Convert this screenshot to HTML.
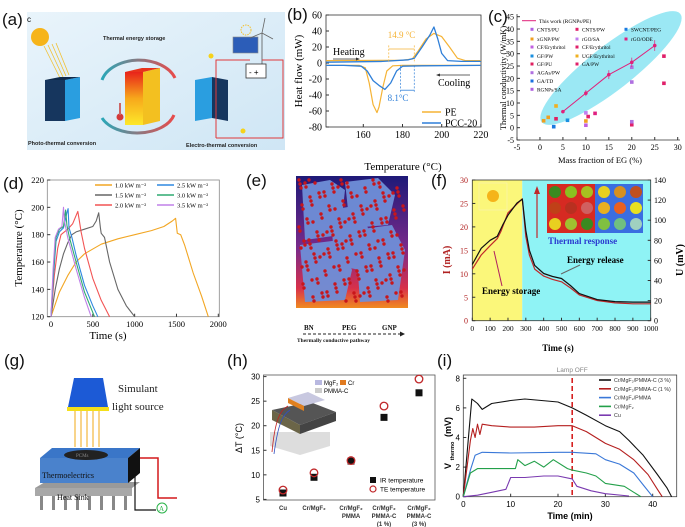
<!DOCTYPE html>
<html><head><meta charset="utf-8"><style>
html,body{margin:0;padding:0;background:#fff;}
svg{display:block;font-family:"Liberation Serif",serif;}
.sans{font-family:"Liberation Sans",sans-serif;}
</style></head><body>
<svg id="fig" width="685" height="527" viewBox="0 0 685 527" xmlns="http://www.w3.org/2000/svg">
<defs>
<linearGradient id="abg" x1="0" y1="0" x2="1" y2="1"><stop offset="0" stop-color="#e9f4fb"/><stop offset="1" stop-color="#cfe6f5"/></linearGradient>
<linearGradient id="hot" x1="0" y1="0" x2="0" y2="1"><stop offset="0" stop-color="#e8231a"/><stop offset="0.5" stop-color="#f7a81b"/><stop offset="1" stop-color="#fde82a"/></linearGradient>
<linearGradient id="ebg" x1="0" y1="0" x2="0" y2="1"><stop offset="0" stop-color="#1e1a78"/><stop offset="0.55" stop-color="#7a2a8a"/><stop offset="0.85" stop-color="#d8304a"/><stop offset="1" stop-color="#f08a20"/></linearGradient>
<linearGradient id="tl" x1="0" y1="0" x2="1" y2="0"><stop offset="0" stop-color="#2aa7b8"/><stop offset="1" stop-color="#e84b4b"/></linearGradient>
</defs>

<g class="sans" font-size="17" fill="#111">
<text x="2" y="25">(a)</text>
<text x="287" y="20">(b)</text>
<text x="488" y="22">(c)</text>
<text x="3" y="189">(d)</text>
<text x="246" y="186">(e)</text>
<text x="431" y="186">(f)</text>
<text x="4" y="366">(g)</text>
<text x="227" y="366">(h)</text>
<text x="437" y="366">(i)</text>
</g>

<g>
<rect x="27" y="12" width="258" height="138" fill="url(#abg)"/>
<text x="27" y="22" font-size="8" class="sans">c</text>
<circle cx="40" cy="37" r="9" fill="#f6b41a"/>
<g stroke="#f2c030" stroke-width="0.8"><line x1="44" y1="46" x2="60" y2="78"/><line x1="48" y1="45" x2="63" y2="77"/><line x1="52" y1="44" x2="66" y2="76"/><line x1="56" y1="43" x2="69" y2="75"/></g>
<polygon points="45,80 65,80 65,121 45,121" fill="#16365e"/>
<polygon points="65,80 80,77 80,118 65,121" fill="#2a9ee0"/>
<polygon points="45,80 60,77 80,77 65,80" fill="#0f2a4a"/>
<polygon points="125,72 143,72 143,125 125,125" fill="url(#hot)"/>
<polygon points="143,72 160,68 160,121 143,125" fill="#f3c020"/>
<polygon points="125,72 142,68 160,68 143,72" fill="#e8331c"/>
<path d="M102,80 A38,26 0 0 1 175,78" fill="none" stroke="url(#tl)" stroke-width="3"/>
<path d="M174,115 A38,24 0 0 1 102,118" fill="none" stroke="url(#tl)" stroke-width="3"/>
<circle cx="120" cy="117" r="3.5" fill="#d43a3a"/><rect x="119" y="103" width="2" height="12" fill="#c66"/>
<polygon points="195,80 212,77 212,118 195,121" fill="#2a9ee0"/>
<polygon points="212,77 228,80 228,121 212,118" fill="#16365e"/>
<text x="103" y="40" font-size="5.5" font-weight="bold" class="sans" fill="#222">Thermal energy storage</text>
<text x="28" y="145" font-size="5.5" font-weight="bold" class="sans" fill="#222">Photo-thermal conversion</text>
<text x="186" y="147" font-size="5.5" font-weight="bold" class="sans" fill="#222">Electro-thermal conversion</text>
<rect x="233" y="37" width="25" height="16" fill="#2c5db8" stroke="#888" stroke-width="0.6"/>
<line x1="262" y1="33" x2="262" y2="68" stroke="#555" stroke-width="0.8"/>
<path d="M262,33 L265,18 M262,33 L250,38 M262,33 L273,39" stroke="#666" stroke-width="0.8"/>
<circle cx="246" cy="30" r="5" fill="none" stroke="#f2c030" stroke-dasharray="1.5 1"/>
<rect x="246" y="64" width="20" height="14" fill="#fff" stroke="#333" stroke-width="0.8"/>
<text x="249" y="75" font-size="8" class="sans">- +</text>
<path d="M216,138 L216,60 L250,60 M262,60 L283,60 L283,138 L216,138" fill="none" stroke="#e0393b" stroke-width="1"/>
<circle cx="211" cy="56" r="2.5" fill="#f6d21a"/><circle cx="243" cy="131" r="2.5" fill="#f6d21a"/>
</g>

<g>
<rect x="296" y="176" width="112" height="132" fill="url(#ebg)"/>
<g id="eshapes" fill="#6f8fd8" opacity="0.95">
<polygon points="302,185 330,180 345,190 340,235 305,240"/>
<polygon points="345,182 378,178 395,195 388,225 350,228"/>
<polygon points="300,245 340,240 352,270 345,300 305,302"/>
<polygon points="355,230 392,225 405,250 398,300 360,302"/>
<polygon points="330,210 360,205 372,240 360,270 335,265"/>
</g>
<g id="edots" fill="#c8161b"></g>
<g font-size="7" font-weight="bold" fill="#111">
<text x="304" y="330">BN</text><text x="342" y="330">PEG</text><text x="382" y="330">GNP</text>
<text x="297" y="342" font-size="5.5">Thermally conductive pathway</text></g>
<line x1="303" y1="334" x2="400" y2="334" stroke="#222" stroke-dasharray="3 2"/>
<polygon points="400,331.5 405,334 400,336.5" fill="#222"/>
</g>

<g>
<polygon points="74,378 103,378 108,407 68,407" fill="#1c5ad6"/>
<rect x="67" y="407" width="42" height="4" fill="#f4df1a"/>
<text x="118" y="392" font-size="11" fill="#222">Simulant</text>
<text x="112" y="410" font-size="11" fill="#222">light source</text>
<g stroke="#f2a916" stroke-width="1"><line x1="75" y1="411" x2="75" y2="447"/><line x1="81" y1="411" x2="81" y2="447"/><line x1="87" y1="411" x2="87" y2="447"/><line x1="93" y1="411" x2="93" y2="447"/><line x1="99" y1="411" x2="99" y2="447"/></g>
<polygon points="35,488 132,488 140,482 45,482" fill="#9a9a9a"/>
<rect x="35" y="488" width="97" height="8" fill="#a8a8a8"/>
<g fill="#888"><rect x="40" y="496" width="3" height="14"/><rect x="52" y="496" width="3" height="14"/><rect x="64" y="496" width="3" height="14"/><rect x="76" y="496" width="3" height="14"/><rect x="88" y="496" width="3" height="14"/><rect x="100" y="496" width="3" height="14"/><rect x="112" y="496" width="3" height="14"/><rect x="124" y="496" width="3" height="14"/></g>
<text x="57" y="500" font-size="8" fill="#111">Heat Sink</text>
<polygon points="40,458 128,458 140,448 52,448" fill="#3a76c8"/>
<rect x="40" y="458" width="88" height="25" fill="#4a82cc"/>
<polygon points="128,458 140,448 140,473 128,483" fill="#111"/>
<ellipse cx="86" cy="455" rx="22" ry="5" fill="#222"/>
<text x="76" y="457" font-size="5" fill="#888">PCMs</text>
<text x="42" y="478" font-size="8" fill="#111">Thermoelectrics</text>
<path d="M140,458 L158,458 L158,498 L177,498" fill="none" stroke="#d4191c" stroke-width="1.5"/>
<path d="M132,475 L135,475 L135,510 L156,510" fill="none" stroke="#111" stroke-width="1.2"/>
<circle cx="162" cy="508" r="5" fill="#fff" stroke="#2bb34a"/><text x="159" y="511" font-size="7" fill="#2bb34a">A</text>
</g>

<g id="plots"></g>
</svg>
<script>
const bPEheat=[[141,3],[180,3.5],[185,5],[188,15],[192,30],[196,37],[200,33],[204,20],[208,6],[212,3],[220,3]];
const bPEcool=[[220,-3],[180,-3],[175,-3.5],[172,-10],[170,-30],[168,-55],[167,-62],[165,-52],[163,-25],[161,-6],[158,-3],[141,-3]];
const bPCCheat=[[141,1],[170,2],[183,4],[186,6],[190,20],[194,35],[196,45],[198,30],[200,12],[203,3],[210,2],[220,2]];
const bPCCcool=[[220,-3],[190,-3.5],[180,-4],[177,-10],[174,-25],[171,-33],[168,-28],[165,-22],[162,-10],[159,-4],[150,-3],[141,-3]];
const bXTicks=[160,180,200,220];
const bYTicks=[60,40,20,0,-20,-40,-60,-80];
const cWorkX=[5,10,15,20,25];
const cWorkY=[6.5,14,21.5,26.5,33.3];
const cWorkErr=[0.6,1.2,1.8,1.9,2.2];
const cPtsX=[0.8,1.8,3,3.5,3.5,6,10,10,10,10.5,12,20,20,20,20,27,27];
const cPtsY=[2.8,4.2,0.4,3.6,8.8,3,1,2.7,6,4.5,5.8,1.2,2.4,18.5,24.5,29,18];
const cPtsSeries=[3,3,2,10,9,8,6,3,4,1,5,7,12,12,12,7,1];
const cLegend=["CNTS/PU","CNTS/PW","SWCNT/PEG","xGNP/PW","rGO/SA","rGO/ODE","CF/Erythritol","CF/Erythritol","GF/PW","UGF/Erythritol","GF/PU","GA/PW","AGAs/PW","GA/TD","RGNPs/SA"];
const cLegendColor=["#b060e0","#e0206a","#1a7ae0","#f0a020","#c080f0","#e02080","#c060e0","#e0206a","#1a90e0","#f0b020","#e02060","#e0206a","#b070e0","#1a70e0","#b060e0"];
const cXTicks=[-5,0,5,10,15,20,25,30];
const cYTicks=[-5,0,5,10,15,20,25,30,35,40,45];
const dSeries=["1.0 kW m\u207B\u00B2","1.5 kW m\u207B\u00B2","2.0 kW m\u207B\u00B2","2.5 kW m\u207B\u00B2","3.0 kW m\u207B\u00B2","3.5 kW m\u207B\u00B2"];
const d10=[[0,120],[100,138],[200,150],[300,160],[400,166],[600,173],[800,177],[1000,180],[1200,183],[1350,186],[1450,190],[1490,192],[1510,181],[1550,180],[1600,172],[1700,152],[1800,135],[1880,120]];
const d15=[[0,120],[50,140],[100,155],[150,166],[200,174],[250,180],[300,182],[400,184],[500,186],[540,190],[570,196],[590,185],[600,181],[640,178],[700,160],[800,140],[900,128],[1000,120]];
const d20=[[0,120],[40,150],[80,170],[120,180],[200,184],[260,188],[320,197],[340,190],[360,182],[400,170],[500,148],[600,132],[700,120]];
const d25=[[0,120],[30,150],[60,175],[100,182],[150,185],[190,196],[205,199],[215,185],[250,178],[300,165],[400,143],[500,128],[560,120]];
const d30=[[0,120],[30,155],[60,178],[100,184],[150,186],[175,198],[190,187],[220,178],[300,160],[400,138],[520,120]];
const d35=[[0,120],[25,155],[50,178],[90,184],[130,186],[150,200],[160,190],[200,178],[300,155],[400,134],[480,120]];
const dXTicks=[0,500,1000,1500,2000];
const dYTicks=[120,140,160,180,200,220];
const fI=[[0,11],[50,14],[100,16],[140,17.5],[160,19],[200,23],[240,24.5],[280,26],[300,18],[320,14],[350,11],[400,9.5],[450,8.8],[500,8.3],[550,7],[600,5.5],[700,4.3],[800,3.8],[900,3.6],[1000,3.6]];
const fU=[[0,56],[50,72],[100,80],[140,84],[170,95],[200,105],[250,117],[280,121],[300,90],[320,70],[350,55],[400,47],[450,44],[500,42],[550,35],[600,27],[700,21],[800,19],[900,18.5],[1000,18.5]];
const fXTicks=[0,100,200,300,400,500,600,700,800,900,1000];
const fYTicks=[0,5,10,15,20,25,30];
const fY2Ticks=[0,20,40,60,80,100,120,140];
const hCats=["Cu","Cr/MgF\u2082","Cr/MgF\u2082|PMMA","Cr/MgF\u2082|PMMA-C|(1 %)","Cr/MgF\u2082|PMMA-C|(3 %)"];
const hIR=[6.3,9.5,12.8,21.7,26.7];
const hTE=[6.9,10.4,12.9,24,29.5];
const hYTicks=[5,10,15,20,25,30];
const iNames=["Cr/MgF\u2082/PMMA-C (3 %)","Cr/MgF\u2082/PMMA-C (1 %)","Cr/MgF\u2082/PMMA","Cr/MgF\u2082","Cu"];
const i3=[[0,0],[1.8,6.6],[3,6.3],[4,5.9],[6,6.3],[10,6.5],[13,6.6],[20,6.4],[23,6.0],[26,5.5],[30,4.8],[33,4.4],[35,3.8],[38,2.8],[41,1.5],[43,0.6],[44,0]];
const i1=[[0,0],[1.5,3.8],[2,4.6],[2.5,4.0],[3,4.9],[3.5,4.2],[4,4.9],[6,4.8],[10,4.7],[15,4.7],[20,4.8],[23,4.8],[26,4.4],[30,3.6],[33,3.2],[36,2.5],[39,1.5],[41,0.5],[42,0]];
const iP=[[0,0],[1.5,1.8],[2.5,2.8],[4,3.0],[10,2.95],[20,3.0],[23,3.0],[28,2.9],[30,2.5],[33,2.2],[36,1.6],[38,0.8],[40,0]];
const iM=[[0,0],[1.5,1.6],[3,1.9],[11,1.9],[11.5,2.5],[13,2.1],[15,2.4],[17,2.0],[19,2.5],[22,1.9],[23,1.8],[26,1.6],[28,1.4],[30,0.9],[34,0.7],[36,0.3],[37.5,0]];
const iC=[[0,0],[3,0.1],[6,0.3],[9,0.5],[10,1.3],[13,1.3],[17,1.4],[20,1.4],[23,1.2],[24,0.7],[27,0.4],[30,0.2],[35,0.05]];
const iXTicks=[0,10,20,30,40];
const iYTicks=[0,2,4,6,8];
const iLamp=23;

const NS="http://www.w3.org/2000/svg";
const root=document.getElementById('plots');
function mk(tag,attrs,parent){const e=document.createElementNS(NS,tag);for(const k in attrs)e.setAttribute(k,attrs[k]);(parent||root).appendChild(e);return e;}
function lin(d0,d1,r0,r1){return v=>r0+(v-d0)*(r1-r0)/(d1-d0);}
function pathD(pts,sx,sy){return pts.map((p,i)=>(i?'L':'M')+sx(p[0]).toFixed(1)+','+sy(p[1]).toFixed(1)).join('');}
function txt(x,y,s,attrs,parent){const t=mk('text',Object.assign({x:x,y:y},attrs||{}),parent);t.textContent=s;return t;}
function curve(pts,sx,sy,col,w,name){const p=mk('path',{d:pathD(pts,sx,sy),fill:'none',stroke:col,'stroke-width':w||1.2,'stroke-linejoin':'round'});


return p;}

(function(){
const sx=lin(160,200,363.3,441.7), sy=lin(60,-80,15,127);
const g=mk('g',{});


mk('rect',{x:326,y:15,width:155,height:112,fill:'none',stroke:'#333','stroke-width':0.8},g);
bXTicks.forEach(v=>{mk('line',{x1:sx(v),x2:sx(v),y1:127,y2:124,stroke:'#333'},g);txt(sx(v),138,v,{'font-size':10,'text-anchor':'middle'},g);});
bYTicks.forEach(v=>{mk('line',{x1:326,x2:329,y1:sy(v),y2:sy(v),stroke:'#333'},g);txt(322,sy(v)+3.5,v,{'font-size':10,'text-anchor':'end'},g);});
txt(0,0,'Heat flow (mW)',{'font-size':11,'text-anchor':'middle',transform:'translate(302,71) rotate(-90)'},g);
txt(403,170,'Temperature (°C)',{'font-size':11,'text-anchor':'middle'},g);
curve(bPEheat,sx,sy,'#f5b335',1.2,'pe-heating-curve');g.appendChild(root.lastChild);
curve(bPEcool,sx,sy,'#f5b335',1.2,'pe-cooling-curve');g.appendChild(root.lastChild);
curve(bPCCheat,sx,sy,'#2f7fd8',1.3,'pcc20-heating-curve');g.appendChild(root.lastChild);
curve(bPCCcool,sx,sy,'#2f7fd8',1.3,'pcc20-cooling-curve');g.appendChild(root.lastChild);
[173,186].forEach(v=>mk('line',{x1:sx(v),x2:sx(v),y1:sy(22),y2:sy(0),stroke:'#f5b335','stroke-dasharray':'2 1.5','stroke-width':0.7},g));
mk('line',{x1:sx(173),x2:sx(186),y1:sy(17.5),y2:sy(17.5),stroke:'#f5b335','stroke-width':0.8},g);
txt(sx(179.5),38,'14.9 °C',{'font-size':9,'text-anchor':'middle',fill:'#f5b335'},g);
[179,186].forEach(v=>mk('line',{x1:sx(v),x2:sx(v),y1:sy(-3),y2:sy(-36),stroke:'#2f7fd8','stroke-dasharray':'2 1.5','stroke-width':0.7},g));
mk('line',{x1:sx(179),x2:sx(186),y1:sy(-34),y2:sy(-34),stroke:'#2f7fd8','stroke-width':0.8},g);
txt(398,101,'8.1°C',{'font-size':9,'text-anchor':'middle',fill:'#2f7fd8'},g);
txt(333,55,'Heating',{'font-size':10},g);
mk('line',{x1:333,x2:356,y1:59,y2:59,stroke:'#333','stroke-width':0.7},g);mk('polygon',{points:'356,57.5 360,59 356,60.5',fill:'#333'},g);
txt(438,86,'Cooling',{'font-size':10},g);
mk('line',{x1:440,x2:470,y1:75,y2:75,stroke:'#333','stroke-width':0.7},g);mk('polygon',{points:'440,73.5 436,75 440,76.5',fill:'#333'},g);
mk('line',{x1:422,x2:441,y1:112,y2:112,stroke:'#f5b335','stroke-width':1.5},g);txt(445,115.5,'PE',{'font-size':10},g);
mk('line',{x1:422,x2:441,y1:123,y2:123,stroke:'#2f7fd8','stroke-width':1.5},g);txt(445,126.5,'PCC-20',{'font-size':10},g);
})();

(function(){
const sx=lin(-5,30,517,677.7), sy=lin(-5,45,140,16.7);
const g=mk('g',{});


mk('ellipse',{cx:611,cy:68,rx:88,ry:22,fill:'#8ae4f2',opacity:0.85,transform:'rotate(-38 611 68)'},g);
mk('path',{d:'M517,14 L517,140 L680,140',fill:'none',stroke:'#333','stroke-width':0.8},g);
cXTicks.forEach(v=>{mk('line',{x1:sx(v),x2:sx(v),y1:140,y2:137,stroke:'#333'},g);txt(sx(v),150,v,{'font-size':8,'text-anchor':'middle'},g);});
cYTicks.forEach(v=>{mk('line',{x1:517,x2:520,y1:sy(v),y2:sy(v),stroke:'#333'},g);txt(514,sy(v)+3,v,{'font-size':8,'text-anchor':'end'},g);});
txt(0,0,'Thermal conductivity (W/mK)',{'font-size':8.5,'text-anchor':'middle',transform:'translate(506,78) rotate(-90)'},g);
txt(600,163,'Mass fraction of EG (%)',{'font-size':8.5,'text-anchor':'middle'},g);
cPtsX.forEach((v,i)=>{const c=mk('rect',{x:sx(v)-1.8,y:sy(cPtsY[i])-1.8,width:3.6,height:3.6,fill:cLegendColor[cPtsSeries[i]]},g);

});
const wp=cWorkX.map((v,i)=>[v,cWorkY[i]]);
curve(wp,sx,sy,'#e0207a',1,'this-work-line');g.appendChild(root.lastChild);
cWorkX.forEach((v,i)=>{mk('line',{x1:sx(v),x2:sx(v),y1:sy(cWorkY[i]-cWorkErr[i]),y2:sy(cWorkY[i]+cWorkErr[i]),stroke:'#e0207a','stroke-width':0.7},g);
const m=mk('circle',{cx:sx(v),cy:sy(cWorkY[i]),r:1.8,fill:'#e0207a'},g);

});
mk('line',{x1:522,x2:536,y1:20.7,y2:20.7,stroke:'#e0207a'},g);txt(539,23,'This work (RGNPs/PE)',{'font-size':5.5},g);
const colX=[532,577,626], rowY=[29.3,39,47,56,64,72.7,81,89.3];
const lay=[[0,0],[0,1],[0,2],[1,0],[1,1],[1,2],[2,0],[2,1],[3,0],[3,1],[4,0],[4,1],[5,0],[6,0],[7,0]];
cLegend.forEach((n,i)=>{const r=rowY[lay[i][0]],x=colX[lay[i][1]];
mk('rect',{x:x-1.5,y:r-1.5,width:3,height:3,fill:cLegendColor[i]},g);
const t=txt(x+5,r+2,n,{'font-size':5.3},g);

});
})();

(function(){
const sx=lin(0,2000,51,218.3), sy=lin(120,220,316.7,180);
const g=mk('g',{});


mk('rect',{x:47.3,y:180,width:172,height:136.7,fill:'none',stroke:'#888','stroke-width':0.8},g);
dXTicks.forEach(v=>{mk('line',{x1:sx(v),x2:sx(v),y1:316.7,y2:313.7,stroke:'#333'},g);txt(sx(v),327,v,{'font-size':8.5,'text-anchor':'middle'},g);});
dYTicks.forEach(v=>{mk('line',{x1:47.3,x2:50.3,y1:sy(v),y2:sy(v),stroke:'#333'},g);txt(44,sy(v)+3,v,{'font-size':8.5,'text-anchor':'end'},g);});
txt(0,0,'Temperature (°C)',{'font-size':11,'text-anchor':'middle',transform:'translate(22,248) rotate(-90)'},g);
txt(108,339,'Time (s)',{'font-size':11,'text-anchor':'middle'},g);
const sets=[d10,d15,d20,d25,d30,d35], cols=['#f2a623','#666','#f25454','#2f88e0','#2faa70','#c080e8'];
sets.forEach((s,i)=>{curve(s,sx,sy,cols[i],1.1,'curve-'+i);g.appendChild(root.lastChild);});
const lx=[95,95,95,157,157,157], ly=[185,195,205,185,195,205];
dSeries.forEach((n,i)=>{mk('line',{x1:lx[i],x2:lx[i]+17,y1:ly[i],y2:ly[i],stroke:cols[i],'stroke-width':1.5},g);
const t=txt(lx[i]+20,ly[i]+2.5,n,{'font-size':6.5},g);

});
})();

(function(){
const g=document.getElementById('edots');
for(let k=0;k<200;k++){const x=299+((k*37)%106),y=180+((k*61+(k>>3)*13)%122);
mk('circle',{cx:x,cy:y,r:1.7},g);}
})();

(function(){
const sx=lin(0,1000,472.3,650.7), sy=lin(0,30,320.7,180), sy2=lin(0,140,320.7,180);
const g=mk('g',{});


mk('rect',{x:472.3,y:180,width:sx(280)-472.3,height:140.7,fill:'#fbf77a'},g);
mk('rect',{x:sx(280),y:180,width:650.7-sx(280),height:140.7,fill:'#8ff3f5'},g);
mk('rect',{x:472.3,y:180,width:178.4,height:140.7,fill:'none',stroke:'#333','stroke-width':0.8},g);
fXTicks.forEach(v=>{mk('line',{x1:sx(v),x2:sx(v),y1:320.7,y2:317.7,stroke:'#333'},g);txt(sx(v),331,v,{'font-size':7.5,'text-anchor':'middle'},g);});
fYTicks.forEach(v=>{mk('line',{x1:472.3,x2:475.3,y1:sy(v),y2:sy(v),stroke:'#333'},g);txt(468,sy(v)+3,v,{'font-size':8,'text-anchor':'end',fill:'#b02020'},g);});
fY2Ticks.forEach(v=>{mk('line',{x1:650.7,x2:647.7,y1:sy2(v),y2:sy2(v),stroke:'#333'},g);txt(654,sy2(v)+3,v,{'font-size':8},g);});
txt(0,0,'I (mA)',{'font-size':10,'font-weight':'bold','text-anchor':'middle',fill:'#b02020',transform:'translate(450,260) rotate(-90)'},g);
txt(0,0,'U (mV)',{'font-size':10,'font-weight':'bold','text-anchor':'middle',transform:'translate(683,260) rotate(-90)'},g);
txt(558,351,'Time (s)',{'font-size':9,'font-weight':'bold','text-anchor':'middle'},g);
curve(fI,sx,sy,'#c0282a',1.2,'current-curve');g.appendChild(root.lastChild);
curve(fU,sx,sy2,'#111',1.2,'voltage-curve');g.appendChild(root.lastChild);
mk('rect',{x:547,y:184,width:48,height:49,fill:'#d62a22'},g);
mk('rect',{x:595,y:184,width:48,height:49,fill:'#3a6ee0'},g);
const cc=['#3a8a20','#8ac020','#a8c020','#e8d020','#d89020','#c05020','#c04018','#b83020','#d06060','#e8b020','#e86020','#e8e020','#e8d020','#a0c030','#3a8a20','#80c040','#70c080','#a0d0c0'];
for(let r=0;r<3;r++)for(let c=0;c<6;c++){mk('circle',{cx:555+c*16+(c>2?1:0),cy:192+r*16,r:6,fill:cc[r*6+c]},g);}
txt(548,244,'Thermal response',{'font-size':9,'font-weight':'bold',fill:'#2a3ad0'},g);
mk('line',{x1:537,x2:537,y1:238,y2:192,stroke:'#c0282a','stroke-width':1.2},g);mk('polygon',{points:'534,194 537,186 540,194',fill:'#c0282a'},g);
txt(567,263,'Energy release',{'font-size':9,'font-weight':'bold'},g);
mk('line',{x1:580,x2:561,y1:265,y2:274,stroke:'#666'},g);
txt(482,294,'Energy storage',{'font-size':9,'font-weight':'bold'},g);
mk('line',{x1:502,x2:494,y1:286,y2:251,stroke:'#b02060'},g);
mk('circle',{cx:493,cy:196,r:6,fill:'#f5b41a'},g);
mk('rect',{x:479,y:183,width:28,height:27,fill:'none',stroke:'#f8f0c0','stroke-width':0.5},g);
})();

(function(){
const catX=[283,314,351,384,419];
const sy=lin(5,30,499.4,376.6);
const g=mk('g',{class:'sans'});


mk('rect',{x:263.5,y:375,width:171.5,height:125,fill:'none',stroke:'#555','stroke-width':0.8},g);
hYTicks.forEach(v=>{mk('line',{x1:263.5,x2:266.5,y1:sy(v),y2:sy(v),stroke:'#333'},g);txt(260,sy(v)+3,v,{'font-size':8,'text-anchor':'end'},g);});
txt(0,0,'\u0394T (°C)',{'font-size':9,'text-anchor':'middle',transform:'translate(242,438) rotate(-90)'},g);
hCats.forEach((c,i)=>{c.split('|').forEach((l,j)=>txt(catX[i],510+j*8,l,{'font-size':6,'font-weight':'bold','text-anchor':'middle',fill:'#333'},g));});
mk('polygon',{points:'270,432 330,432 330,446 300,455 270,446',fill:'#ddd'},g);
mk('polygon',{points:'272,410 310,402 336,412 300,425',fill:'#555'},g);
mk('polygon',{points:'272,410 300,425 300,434 272,420',fill:'#6b6548'},g);
mk('polygon',{points:'300,425 336,412 336,421 300,434',fill:'#444'},g);
mk('polygon',{points:'288,398 308,392 325,400 304,406',fill:'#c8c8e0'},g);
mk('polygon',{points:'288,398 304,406 304,411 288,403',fill:'#e08020'},g);
mk('path',{d:'M288,406 C280,410 275,420 272,452',fill:'none',stroke:'#c02020','stroke-width':0.8},g);
mk('path',{d:'M290,410 C282,415 278,425 274,454',fill:'none',stroke:'#3050c0','stroke-width':0.8},g);
mk('rect',{x:315,y:380,width:7,height:5,fill:'#b8b8e0'},g);txt(324,385,'MgF\u2082',{'font-size':6},g);
mk('rect',{x:340,y:380,width:6,height:5,fill:'#e07a20'},g);txt(348,385,'Cr',{'font-size':6},g);
mk('rect',{x:315,y:388,width:7,height:5,fill:'#ccc'},g);txt(324,393,'PMMA-C',{'font-size':6},g);
hIR.forEach((v,i)=>{const r=mk('rect',{x:catX[i]-3.5,y:sy(v)-3.5,width:7,height:7,fill:'#111'},g);

});
hTE.forEach((v,i)=>{const c=mk('circle',{cx:catX[i],cy:sy(v),r:3.8,fill:'none',stroke:'#c0282a','stroke-width':1.3},g);

});
mk('rect',{x:370,y:477,width:6,height:6,fill:'#111'},g);txt(380,482.5,'IR temperature',{'font-size':6.5},g);
mk('circle',{cx:373,cy:489,r:3,fill:'none',stroke:'#c0282a','stroke-width':1.2},g);txt(380,491.5,'TE temperature',{'font-size':6.5},g);
})();

(function(){
const sx=lin(0,40,463.3,652.7), sy=lin(0,8,496.7,378.3);
const g=mk('g',{class:'sans'});


mk('rect',{x:463.3,y:375,width:213.4,height:121.7,fill:'none',stroke:'#444','stroke-width':0.8},g);
iXTicks.forEach(v=>{mk('line',{x1:sx(v),x2:sx(v),y1:496.7,y2:493.7,stroke:'#333'},g);txt(sx(v),507,v,{'font-size':8,'text-anchor':'middle'},g);});
iYTicks.forEach(v=>{mk('line',{x1:463.3,x2:466.3,y1:sy(v),y2:sy(v),stroke:'#333'},g);txt(460,sy(v)+3,v,{'font-size':8,'text-anchor':'end'},g);});
txt(0,0,'V',{'font-size':9,'font-weight':'bold','text-anchor':'middle',transform:'translate(451,466) rotate(-90)'},g);
txt(0,0,'thermo',{'font-size':5.5,'font-weight':'bold','text-anchor':'middle',transform:'translate(454,451) rotate(-90)'},g);
txt(0,0,'(mV)',{'font-size':9,'font-weight':'bold','text-anchor':'middle',transform:'translate(451,427) rotate(-90)'},g);
txt(570,519,'Time (min)',{'font-size':9,'font-weight':'bold','text-anchor':'middle'},g);
mk('line',{x1:sx(iLamp),x2:sx(iLamp),y1:378,y2:496.7,stroke:'#d62020','stroke-width':1.6,'stroke-dasharray':'5 3'},g);
txt(sx(iLamp),372,'Lamp OFF',{'font-size':6.5,'text-anchor':'middle',fill:'#888'},g);
const sets=[i3,i1,iP,iM,iC], cols=['#111','#b51f1f','#3a78d8','#23a04a','#7a3ab0'];
sets.forEach((s,i)=>{curve(s,sx,sy,cols[i],1.1,'thermo-curve-'+i);g.appendChild(root.lastChild);});
iNames.forEach((n,i)=>{const y=380+i*8.8;mk('line',{x1:599,x2:611,y1:y,y2:y,stroke:cols[i],'stroke-width':1.6},g);
const t=txt(614,y+2,n,{'font-size':5.3,fill:'#333'},g);

});
})();
</script>
</body></html>
